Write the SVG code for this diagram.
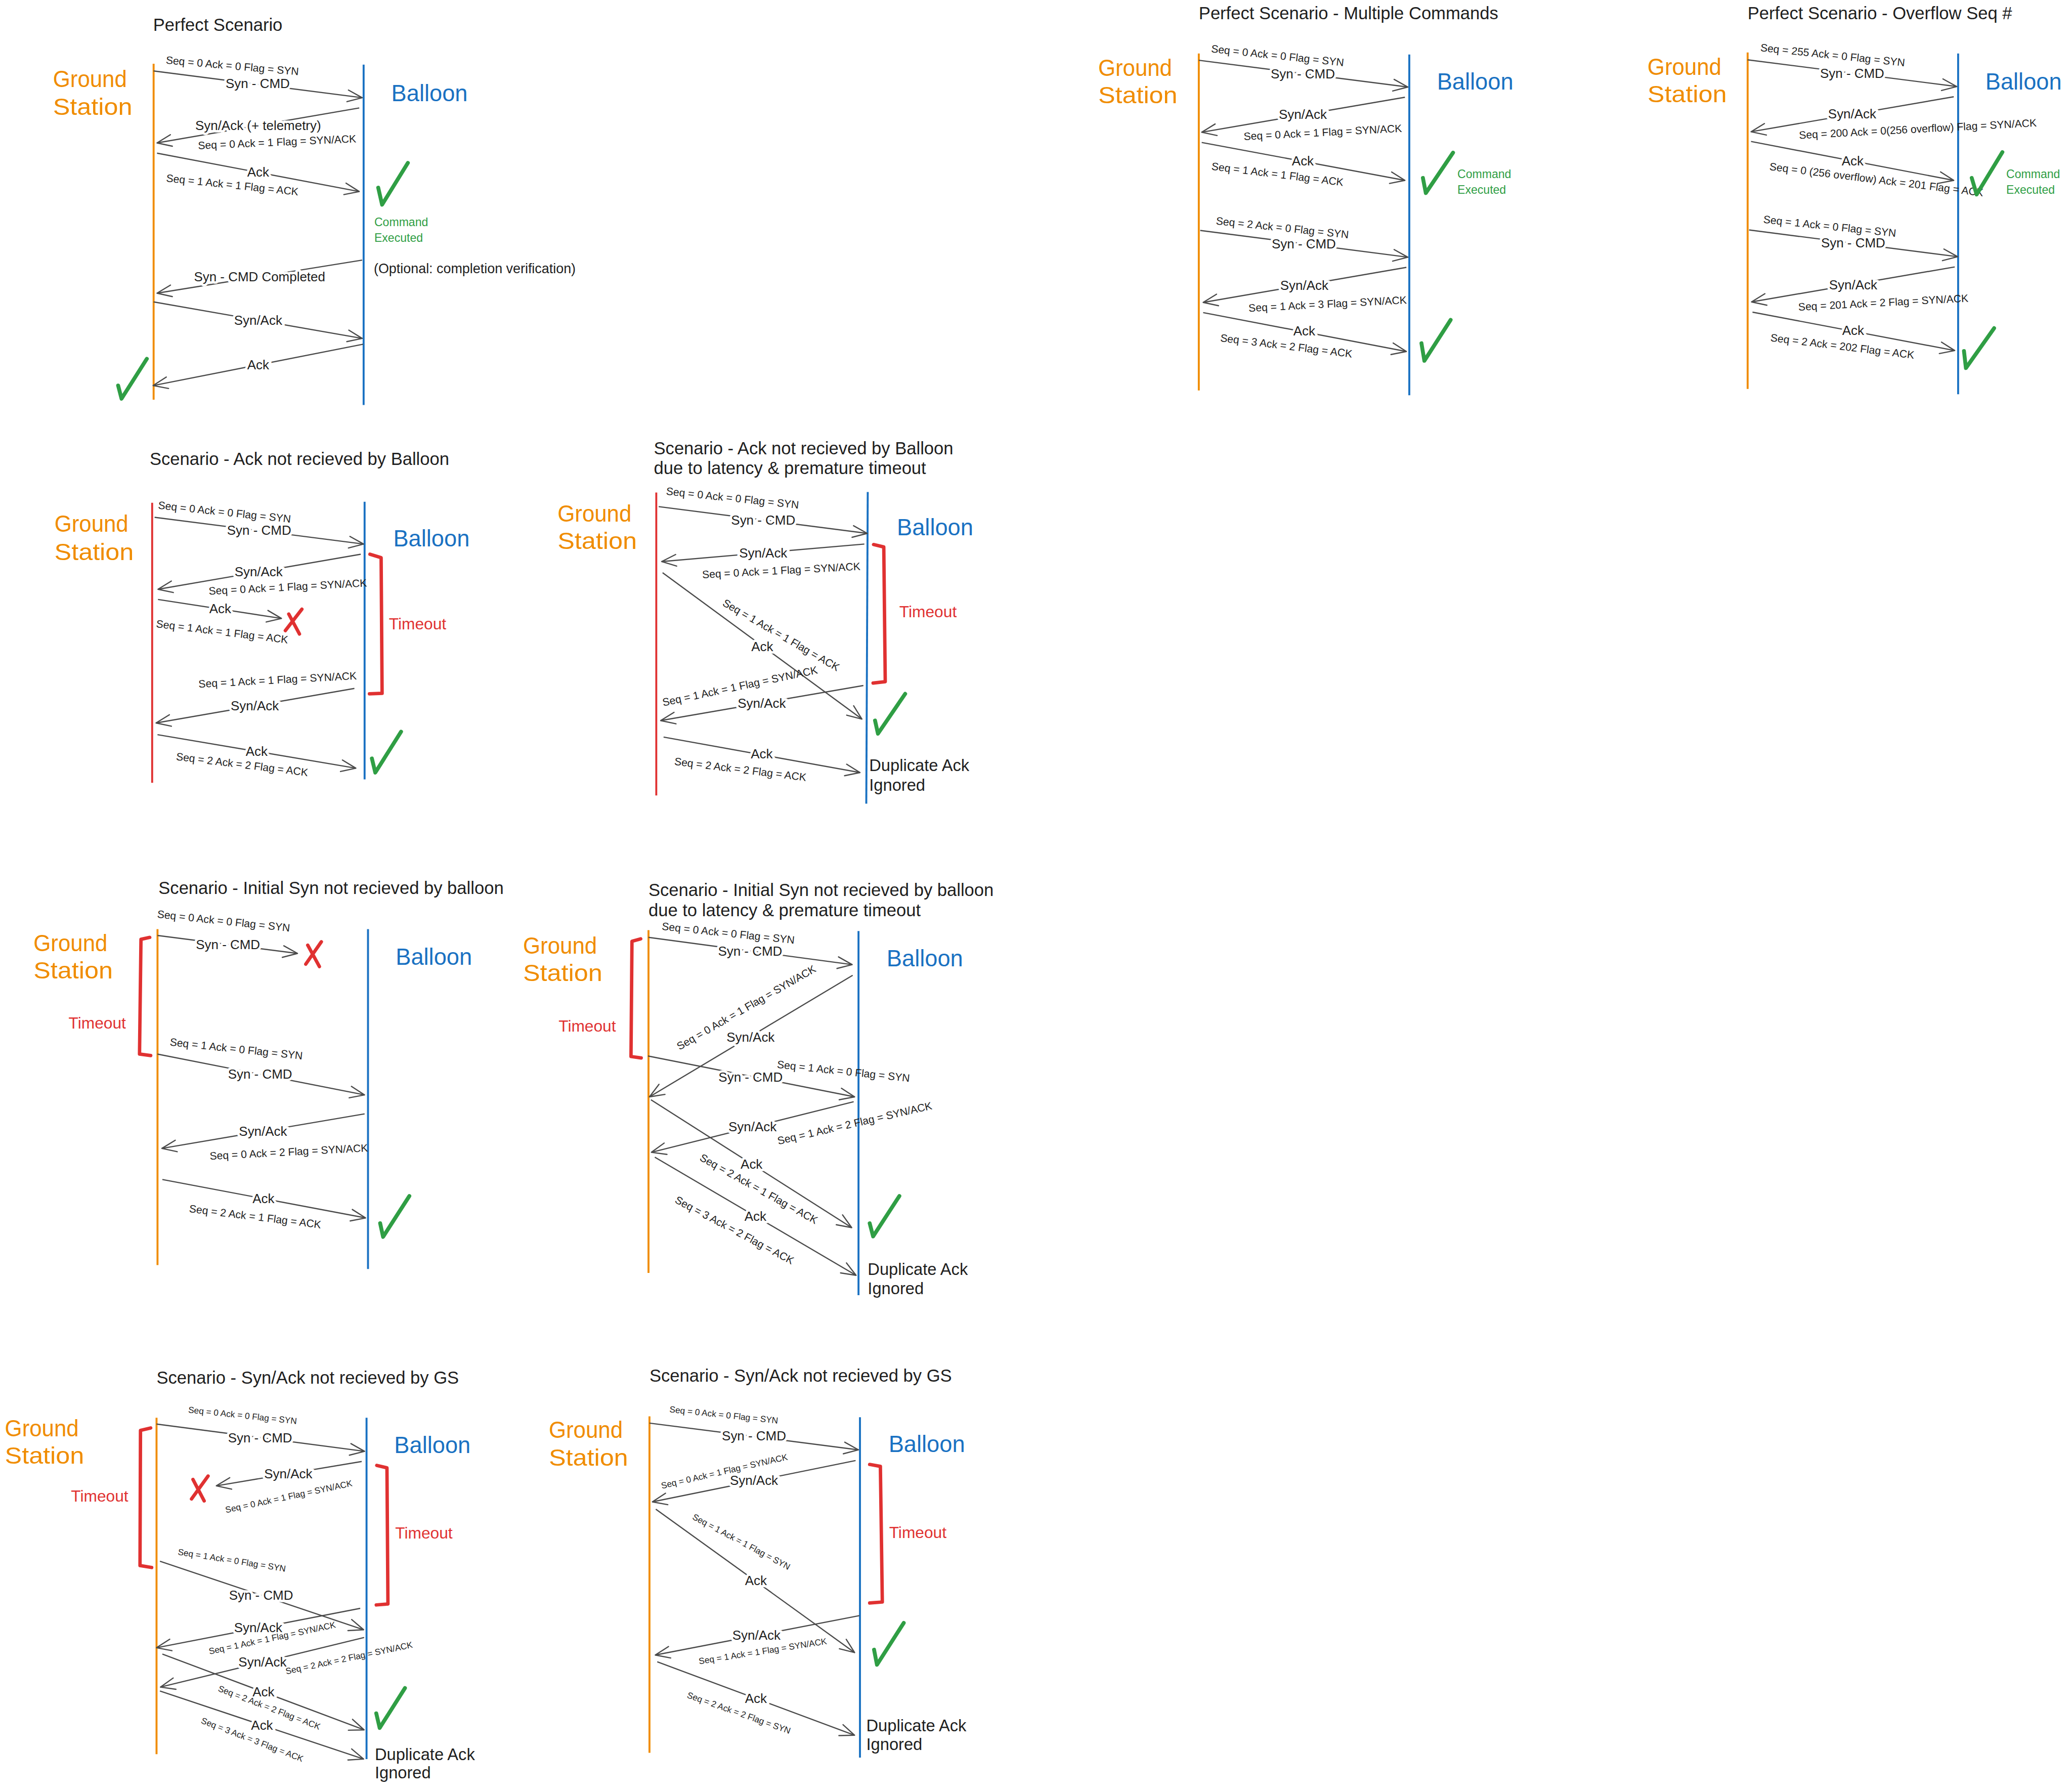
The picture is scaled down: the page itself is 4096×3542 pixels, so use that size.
<svg xmlns="http://www.w3.org/2000/svg" width="4096" height="3542" viewBox="0 0 4096 3542">
<style>
.t{font-family:"Liberation Sans",Arial,sans-serif;fill:#1e1e1e}
.title{font-size:36px}
.gs{fill:#f08c00;font-size:48px}
.bl{fill:#1971c2;font-size:48px}
.lbl{font-size:27px;text-anchor:middle;dominant-baseline:central;paint-order:stroke;stroke:#fff;stroke-width:10px;stroke-linejoin:round}
.seq{font-size:22px;text-anchor:middle;dominant-baseline:central}
.sm{font-size:18px}
.grn{fill:#2f9e44;font-size:24px}
.red{fill:#e03131;font-size:33px}
.dup{font-size:34px}
.opt{font-size:28px}
.lo{stroke:#f08c00;stroke-width:4}
.lb{stroke:#1971c2;stroke-width:4}
.lr{stroke:#e03131;stroke-width:4}
.arr{stroke:#4a4a4a;stroke-width:2.5;fill:none;marker-end:url(#ah)}
.chk{stroke:#2f9e44;stroke-width:8;fill:none;stroke-linecap:round;stroke-linejoin:round}
.x{stroke:#e03131;stroke-width:7;stroke-linecap:round}
.br{stroke:#e03131;stroke-width:7;fill:none;stroke-linejoin:round;stroke-linecap:round}
</style>
<defs>
<marker id="ah" viewBox="-32 -15 36 30" refX="0" refY="0" markerWidth="36" markerHeight="30" markerUnits="userSpaceOnUse" orient="auto">
<path d="M-30,-12 L0,0 L-30,12" fill="none" stroke="#4a4a4a" stroke-width="2.5" stroke-linecap="round" stroke-linejoin="round"/>
</marker>
</defs>
<rect x="0" y="0" width="4096" height="3542" fill="#ffffff"/>
<g transform="scale(0.961)">

<!-- Scenario 1 -->
<g id="s1">
<text class="t title" x="315" y="63">Perfect Scenario</text>
<g id="s1-gs"><line class="lo" x1="316" y1="131" x2="316" y2="822"/><text class="t gs" x="109" y="179" textLength="152" lengthAdjust="spacingAndGlyphs">Ground</text><text class="t gs" x="109" y="236" textLength="163" lengthAdjust="spacingAndGlyphs">Station</text></g>
<g id="s1-bl"><line class="lb" x1="748" y1="133" x2="748" y2="833"/><text class="t bl" x="805" y="208" textLength="157" lengthAdjust="spacingAndGlyphs">Balloon</text></g>
<g id="s1-conn">
<line class="arr" x1="316" y1="146" x2="745" y2="201"/>
<line class="arr" x1="739" y1="222" x2="323" y2="294"/>
<line class="arr" x1="323" y1="315" x2="739" y2="394"/>
<line class="arr" x1="745" y1="535" x2="323" y2="603"/>
<line class="arr" x1="316" y1="621" x2="745" y2="696"/>
<line class="arr" x1="747" y1="708" x2="315" y2="793"/>
<text class="t lbl" x="530" y="172">Syn - CMD</text>
<text class="t lbl" x="531" y="258">Syn/Ack (+ telemetry)</text>
<text class="t lbl" x="531" y="354">Ack</text>
<text class="t lbl" x="534" y="569">Syn - CMD Completed</text>
<text class="t lbl" x="531" y="659">Syn/Ack</text>
<text class="t lbl" x="531" y="750">Ack</text>
<text class="t seq" x="478" y="135" transform="rotate(5 478 135)">Seq = 0 Ack = 0 Flag = SYN</text>
<text class="t seq" x="570" y="292" transform="rotate(-2.5 570 292)">Seq = 0 Ack = 1 Flag = SYN/ACK</text>
<text class="t seq" x="478" y="380" transform="rotate(6 478 380)">Seq = 1 Ack = 1 Flag = ACK</text>
</g>
<g id="s1-notes">
<path class="chk" d="M778,386 L786,421 L839,335"/>
<text class="t grn" x="770" y="465">Command</text><text class="t grn" x="770" y="497">Executed</text>
<text class="t opt" x="769" y="562">(Optional: completion verification)</text>
<path class="chk" d="M243,793 L250,820 L302,738"/>
</g>
</g>

<!-- Scenario 2 -->
<g id="s2">
<text class="t title" x="2466" y="40">Perfect Scenario - Multiple Commands</text>
<g id="s2-gs"><line class="lo" x1="2466" y1="110" x2="2466" y2="803"/><text class="t gs" x="2259" y="156" textLength="152" lengthAdjust="spacingAndGlyphs">Ground</text><text class="t gs" x="2259" y="212" textLength="163" lengthAdjust="spacingAndGlyphs">Station</text></g>
<g id="s2-bl"><line class="lb" x1="2899" y1="112" x2="2899" y2="813"/><text class="t bl" x="2956" y="184" textLength="157" lengthAdjust="spacingAndGlyphs">Balloon</text></g>
<g id="s2-conn">
<line class="arr" x1="2466" y1="124" x2="2896" y2="179"/>
<line class="arr" x1="2890" y1="200" x2="2472" y2="272"/>
<line class="arr" x1="2472" y1="293" x2="2890" y2="371"/>
<line class="arr" x1="2469" y1="474" x2="2896" y2="529"/>
<line class="arr" x1="2893" y1="550" x2="2475" y2="622"/>
<line class="arr" x1="2475" y1="643" x2="2893" y2="723"/>
<text class="t lbl" x="2680" y="152">Syn - CMD</text>
<text class="t lbl" x="2680" y="235">Syn/Ack</text>
<text class="t lbl" x="2680" y="331">Ack</text>
<text class="t lbl" x="2682" y="502">Syn - CMD</text>
<text class="t lbl" x="2683" y="587">Syn/Ack</text>
<text class="t lbl" x="2683" y="681">Ack</text>
<text class="t seq" x="2628" y="114" transform="rotate(6 2628 114)">Seq = 0 Ack = 0 Flag = SYN</text>
<text class="t seq" x="2721" y="272" transform="rotate(-3 2721 272)">Seq = 0 Ack = 1 Flag = SYN/ACK</text>
<text class="t seq" x="2628" y="358" transform="rotate(7 2628 358)">Seq = 1 Ack = 1 Flag = ACK</text>
<text class="t seq" x="2638" y="468" transform="rotate(6 2638 468)">Seq = 2 Ack = 0 Flag = SYN</text>
<text class="t seq" x="2731" y="625" transform="rotate(-3 2731 625)">Seq = 1 Ack = 3 Flag = SYN/ACK</text>
<text class="t seq" x="2646" y="711" transform="rotate(7 2646 711)">Seq = 3 Ack = 2 Flag = ACK</text>
</g>
<g id="s2-notes">
<path class="chk" d="M2927,366 L2933,397 L2989,314"/>
<text class="t grn" x="2998" y="366">Command</text><text class="t grn" x="2998" y="399">Executed</text>
<path class="chk" d="M2924,706 L2930,742 L2984,658"/>
</g>
</g>

<!-- Scenario 3 -->
<g id="s3">
<text class="t title" x="3595" y="40">Perfect Scenario - Overflow Seq #</text>
<g id="s3-gs"><line class="lo" x1="3595" y1="108" x2="3595" y2="800"/><text class="t gs" x="3389" y="154" textLength="152" lengthAdjust="spacingAndGlyphs">Ground</text><text class="t gs" x="3389" y="210" textLength="163" lengthAdjust="spacingAndGlyphs">Station</text></g>
<g id="s3-bl"><line class="lb" x1="4028" y1="110" x2="4028" y2="811"/><text class="t bl" x="4084" y="184" textLength="157" lengthAdjust="spacingAndGlyphs">Balloon</text></g>
<g id="s3-conn">
<line class="arr" x1="3595" y1="123" x2="4025" y2="178"/>
<line class="arr" x1="4019" y1="199" x2="3602" y2="271"/>
<line class="arr" x1="3602" y1="291" x2="4019" y2="371"/>
<line class="arr" x1="3598" y1="473" x2="4027" y2="528"/>
<line class="arr" x1="4021" y1="549" x2="3603" y2="621"/>
<line class="arr" x1="3605" y1="642" x2="4021" y2="721"/>
<text class="t lbl" x="3810" y="151">Syn - CMD</text>
<text class="t lbl" x="3810" y="234">Syn/Ack</text>
<text class="t lbl" x="3811" y="331">Ack</text>
<text class="t lbl" x="3812" y="500">Syn - CMD</text>
<text class="t lbl" x="3812" y="586">Syn/Ack</text>
<text class="t lbl" x="3812" y="680">Ack</text>
<text class="t seq" x="3770" y="113" transform="rotate(6 3770 113)">Seq = 255 Ack = 0 Flag = SYN</text>
<text class="t seq" x="3945" y="265" transform="rotate(-3 3945 265)">Seq = 200 Ack = 0(256 overflow) Flag = SYN/ACK</text>
<text class="t seq" x="3860" y="369" transform="rotate(7 3860 369)">Seq = 0  (256 overflow) Ack = 201 Flag = ACK</text>
<text class="t seq" x="3764" y="465" transform="rotate(6 3764 465)">Seq = 1 Ack = 0 Flag = SYN</text>
<text class="t seq" x="3874" y="622" transform="rotate(-3 3874 622)">Seq = 201 Ack = 2 Flag = SYN/ACK</text>
<text class="t seq" x="3790" y="712" transform="rotate(7 3790 712)">Seq = 2 Ack = 202 Flag = ACK</text>
</g>
<g id="s3-notes">
<path class="chk" d="M4056,366 L4066,400 L4119,313"/>
<text class="t grn" x="4127" y="366">Command</text><text class="t grn" x="4127" y="399">Executed</text>
<path class="chk" d="M4040,722 L4044,757 L4102,675"/>
</g>
</g>

<!-- Scenario 4 -->
<g id="s4">
<text class="t title" x="308" y="956">Scenario - Ack not recieved by Balloon</text>
<g id="s4-gs"><line class="lr" x1="313" y1="1034" x2="313" y2="1610"/><text class="t gs" x="112" y="1094" textLength="152" lengthAdjust="spacingAndGlyphs">Ground</text><text class="t gs" x="112" y="1152" textLength="163" lengthAdjust="spacingAndGlyphs">Station</text></g>
<g id="s4-bl"><line class="lb" x1="750" y1="1032" x2="750" y2="1603"/><text class="t bl" x="809" y="1124" textLength="157" lengthAdjust="spacingAndGlyphs">Balloon</text></g>
<g id="s4-conn">
<line class="arr" x1="318" y1="1064" x2="748" y2="1119"/>
<line class="arr" x1="742" y1="1140" x2="325" y2="1212"/>
<line class="arr" x1="325" y1="1233" x2="579" y2="1272"/>
<line class="arr" x1="729" y1="1416" x2="321" y2="1487"/>
<line class="arr" x1="324" y1="1511" x2="732" y2="1580"/>
<text class="t lbl" x="533" y="1091">Syn - CMD</text>
<text class="t lbl" x="532" y="1176">Syn/Ack</text>
<text class="t lbl" x="453" y="1252">Ack</text>
<text class="t lbl" x="524" y="1452">Syn/Ack</text>
<text class="t lbl" x="528" y="1545">Ack</text>
<text class="t seq" x="462" y="1053" transform="rotate(6 462 1053)">Seq = 0 Ack = 0 Flag = SYN</text>
<text class="t seq" x="592" y="1207" transform="rotate(-3 592 1207)">Seq = 0 Ack = 1 Flag = SYN/ACK</text>
<text class="t seq" x="457" y="1299" transform="rotate(7 457 1299)">Seq = 1 Ack = 1 Flag = ACK</text>
<text class="t seq" x="571" y="1398" transform="rotate(-3 571 1398)">Seq = 1 Ack = 1 Flag = SYN/ACK</text>
<text class="t seq" x="498" y="1572" transform="rotate(7 498 1572)">Seq = 2 Ack = 2 Flag = ACK</text>
</g>
<g id="s4-notes">
<path class="x" d="M621,1253 L587,1297 M594,1263 L616,1304"/>
<path class="br" d="M761,1140 L784,1147 L786,1426 L760,1427"/>
<text class="t red" x="800" y="1294">Timeout</text>
<path class="chk" d="M765,1560 L772,1589 L825,1505"/>
</g>
</g>

<!-- Scenario 5 -->
<g id="s5">
<text class="t title" x="1345" y="934">Scenario - Ack not recieved by Balloon</text>
<text class="t title" x="1345" y="975">due to latency &amp; premature timeout</text>
<g id="s5-gs"><line class="lr" x1="1350" y1="1013" x2="1350" y2="1636"/><text class="t gs" x="1147" y="1073" textLength="152" lengthAdjust="spacingAndGlyphs">Ground</text><text class="t gs" x="1147" y="1129" textLength="163" lengthAdjust="spacingAndGlyphs">Station</text></g>
<g id="s5-bl"><line class="lb" x1="1785" y1="1012" x2="1782" y2="1653"/><text class="t bl" x="1845" y="1101" textLength="157" lengthAdjust="spacingAndGlyphs">Balloon</text></g>
<g id="s5-conn">
<line class="arr" x1="1355" y1="1042" x2="1784" y2="1097"/>
<line class="arr" x1="1778" y1="1119" x2="1361" y2="1155"/>
<line class="arr" x1="1363" y1="1178" x2="1773" y2="1479"/>
<line class="arr" x1="1776" y1="1410" x2="1359" y2="1482"/>
<line class="arr" x1="1365" y1="1516" x2="1769" y2="1589"/>
<text class="t lbl" x="1570" y="1070">Syn - CMD</text>
<text class="t lbl" x="1570" y="1137">Syn/Ack</text>
<text class="t lbl" x="1568" y="1330">Ack</text>
<text class="t lbl" x="1567" y="1446">Syn/Ack</text>
<text class="t lbl" x="1567" y="1551">Ack</text>
<text class="t seq" x="1507" y="1024" transform="rotate(6 1507 1024)">Seq = 0 Ack = 0 Flag = SYN</text>
<text class="t seq" x="1607" y="1173" transform="rotate(-3 1607 1173)">Seq = 0 Ack = 1 Flag = SYN/ACK</text>
<text class="t seq" x="1607" y="1306" transform="rotate(30 1607 1306)">Seq = 1 Ack = 1 Flag = ACK</text>
<text class="t seq" x="1522" y="1411" transform="rotate(-12 1522 1411)">Seq = 1 Ack = 1 Flag = SYN/ACK</text>
<text class="t seq" x="1523" y="1582" transform="rotate(7 1523 1582)">Seq = 2 Ack = 2 Flag = ACK</text>
</g>
<g id="s5-notes">
<path class="br" d="M1797,1120 L1818,1125 L1821,1402 L1796,1405"/>
<text class="t red" x="1850" y="1270">Timeout</text>
<path class="chk" d="M1800,1482 L1806,1509 L1862,1427"/>
<text class="t dup" x="1788" y="1586">Duplicate Ack</text>
<text class="t dup" x="1788" y="1626">Ignored</text>
</g>
</g>

<!-- Scenario 6 -->
<g id="s6">
<text class="t title" x="326" y="1839">Scenario - Initial Syn not recieved by balloon</text>
<g id="s6-gs"><line class="lo" x1="324" y1="1911" x2="324" y2="2602"/><text class="t gs" x="69" y="1956" textLength="152" lengthAdjust="spacingAndGlyphs">Ground</text><text class="t gs" x="69" y="2012" textLength="163" lengthAdjust="spacingAndGlyphs">Station</text></g>
<g id="s6-bl"><line class="lb" x1="757" y1="1911" x2="757" y2="2610"/><text class="t bl" x="814" y="1984" textLength="157" lengthAdjust="spacingAndGlyphs">Balloon</text></g>
<g id="s6-conn">
<line class="arr" x1="324" y1="1924" x2="612" y2="1961"/>
<line class="arr" x1="324" y1="2168" x2="750" y2="2252"/>
<line class="arr" x1="750" y1="2291" x2="333" y2="2362"/>
<line class="arr" x1="334" y1="2426" x2="752" y2="2505"/>
<text class="t lbl" x="469" y="1943">Syn - CMD</text>
<text class="t lbl" x="535" y="2209">Syn - CMD</text>
<text class="t lbl" x="541" y="2327">Syn/Ack</text>
<text class="t lbl" x="542" y="2465">Ack</text>
<text class="t seq" x="460" y="1894" transform="rotate(6 460 1894)">Seq = 0 Ack = 0 Flag = SYN</text>
<text class="t seq" x="486" y="2157" transform="rotate(6 486 2157)">Seq = 1 Ack = 0 Flag = SYN</text>
<text class="t seq" x="594" y="2369" transform="rotate(-3 594 2369)">Seq = 0 Ack = 2 Flag = SYN/ACK</text>
<text class="t seq" x="525" y="2502" transform="rotate(7 525 2502)">Seq = 2 Ack = 1 Flag = ACK</text>
</g>
<g id="s6-notes">
<path class="br" d="M308,1928 L290,1932 L287,2168 L310,2171"/>
<text class="t red" x="141" y="2116">Timeout</text>
<path class="x" d="M661,1937 L629,1983 M633,1944 L657,1988"/>
<path class="chk" d="M782,2516 L788,2544 L842,2460"/>
</g>
</g>

<!-- Scenario 7 -->
<g id="s7">
<text class="t title" x="1334" y="1843">Scenario - Initial Syn not recieved by balloon</text>
<text class="t title" x="1334" y="1885">due to latency &amp; premature timeout</text>
<g id="s7-gs"><line class="lo" x1="1334" y1="1913" x2="1334" y2="2618"/><text class="t gs" x="1076" y="1961" textLength="152" lengthAdjust="spacingAndGlyphs">Ground</text><text class="t gs" x="1076" y="2018" textLength="163" lengthAdjust="spacingAndGlyphs">Station</text></g>
<g id="s7-bl"><line class="lb" x1="1766" y1="1915" x2="1766" y2="2664"/><text class="t bl" x="1824" y="1988" textLength="157" lengthAdjust="spacingAndGlyphs">Balloon</text></g>
<g id="s7-conn">
<line class="arr" x1="1334" y1="1928" x2="1753" y2="1984"/>
<line class="arr" x1="1754" y1="2006" x2="1336" y2="2256"/>
<line class="arr" x1="1333" y1="2172" x2="1758" y2="2256"/>
<line class="arr" x1="1756" y1="2266" x2="1340" y2="2370"/>
<line class="arr" x1="1339" y1="2262" x2="1752" y2="2525"/>
<line class="arr" x1="1347" y1="2380" x2="1761" y2="2623"/>
<text class="t lbl" x="1543" y="1956">Syn - CMD</text>
<text class="t lbl" x="1544" y="2133">Syn/Ack</text>
<text class="t lbl" x="1544" y="2215">Syn - CMD</text>
<text class="t lbl" x="1548" y="2317">Syn/Ack</text>
<text class="t lbl" x="1546" y="2394">Ack</text>
<text class="t lbl" x="1554" y="2502">Ack</text>
<text class="t seq" x="1498" y="1919" transform="rotate(6 1498 1919)">Seq = 0 Ack = 0 Flag = SYN</text>
<text class="t seq" x="1535" y="2072" transform="rotate(-30 1535 2072)">Seq = 0 Ack = 1 Flag = SYN/ACK</text>
<text class="t seq" x="1735" y="2203" transform="rotate(6 1735 2203)">Seq = 1 Ack = 0 Flag = SYN</text>
<text class="t seq" x="1758" y="2310" transform="rotate(-13 1758 2310)">Seq = 1 Ack = 2 Flag = SYN/ACK</text>
<text class="t seq" x="1561" y="2445" transform="rotate(29 1561 2445)">Seq = 2 Ack = 1 Flag = ACK</text>
<text class="t seq" x="1511" y="2530" transform="rotate(28 1511 2530)">Seq = 3 Ack = 2 Flag = ACK</text>
</g>
<g id="s7-notes">
<path class="br" d="M1318,1931 L1300,1936 L1298,2173 L1319,2176"/>
<text class="t red" x="1149" y="2122">Timeout</text>
<path class="chk" d="M1789,2516 L1796,2543 L1850,2460"/>
<text class="t dup" x="1785" y="2622">Duplicate Ack</text>
<text class="t dup" x="1785" y="2662">Ignored</text>
</g>
</g>

<!-- Scenario 8 -->
<g id="s8">
<text class="t title" x="322" y="2846">Scenario - Syn/Ack not recieved by GS</text>
<g id="s8-gs"><line class="lo" x1="322" y1="2916" x2="322" y2="3608"/><text class="t gs" x="10" y="2954" textLength="152" lengthAdjust="spacingAndGlyphs">Ground</text><text class="t gs" x="10" y="3010" textLength="163" lengthAdjust="spacingAndGlyphs">Station</text></g>
<g id="s8-bl"><line class="lb" x1="754" y1="2916" x2="754" y2="3618"/><text class="t bl" x="811" y="2989" textLength="157" lengthAdjust="spacingAndGlyphs">Balloon</text></g>
<g id="s8-conn">
<line class="arr" x1="322" y1="2929" x2="750" y2="2985"/>
<line class="arr" x1="744" y1="3006" x2="445" y2="3056"/>
<line class="arr" x1="329" y1="3211" x2="748" y2="3352"/>
<line class="arr" x1="741" y1="3308" x2="322" y2="3389"/>
<line class="arr" x1="749" y1="3368" x2="330" y2="3470"/>
<line class="arr" x1="334" y1="3402" x2="749" y2="3558"/>
<line class="arr" x1="329" y1="3478" x2="748" y2="3618"/>
<text class="t lbl" x="535" y="2957">Syn - CMD</text>
<text class="t lbl" x="593" y="3031">Syn/Ack</text>
<text class="t lbl" x="537" y="3281">Syn - CMD</text>
<text class="t lbl" x="531" y="3348">Syn/Ack</text>
<text class="t lbl" x="540" y="3418">Syn/Ack</text>
<text class="t lbl" x="542" y="3480">Ack</text>
<text class="t lbl" x="539" y="3548">Ack</text>
<text class="t seq sm" x="499" y="2911" transform="rotate(6 499 2911)">Seq = 0 Ack = 0 Flag = SYN</text>
<text class="t seq sm" x="594" y="3078" transform="rotate(-12 594 3078)">Seq = 0 Ack = 1 Flag = SYN/ACK</text>
<text class="t seq sm" x="477" y="3209" transform="rotate(9 477 3209)">Seq = 1 Ack = 0 Flag = SYN</text>
<text class="t seq sm" x="560" y="3369" transform="rotate(-12 560 3369)">Seq = 1 Ack = 1 Flag = SYN/ACK</text>
<text class="t seq sm" x="718" y="3410" transform="rotate(-12 718 3410)">Seq = 2 Ack = 2 Flag = SYN/ACK</text>
<text class="t seq sm" x="554" y="3512" transform="rotate(21 554 3512)">Seq = 2 Ack = 2 Flag = ACK</text>
<text class="t seq sm" x="519" y="3578" transform="rotate(21 519 3578)">Seq = 3 Ack = 3 Flag = ACK</text>
</g>
<g id="s8-notes">
<path class="br" d="M310,2937 L289,2942 L288,3220 L312,3224"/>
<text class="t red" x="146" y="3088">Timeout</text>
<path class="x" d="M428,3036 L394,3083 M397,3043 L420,3087"/>
<path class="br" d="M775,3014 L796,3019 L798,3299 L774,3301"/>
<text class="t red" x="813" y="3164">Timeout</text>
<path class="chk" d="M774,3524 L781,3554 L833,3472"/>
<text class="t dup" x="771" y="3620">Duplicate Ack</text>
<text class="t dup" x="771" y="3658">Ignored</text>
</g>
</g>

<!-- Scenario 9 -->
<g id="s9">
<text class="t title" x="1336" y="2842">Scenario - Syn/Ack not recieved by GS</text>
<g id="s9-gs"><line class="lo" x1="1336" y1="2913" x2="1336" y2="3605"/><text class="t gs" x="1129" y="2957" textLength="152" lengthAdjust="spacingAndGlyphs">Ground</text><text class="t gs" x="1129" y="3015" textLength="163" lengthAdjust="spacingAndGlyphs">Station</text></g>
<g id="s9-bl"><line class="lb" x1="1769" y1="2915" x2="1769" y2="3615"/><text class="t bl" x="1828" y="2986" textLength="157" lengthAdjust="spacingAndGlyphs">Balloon</text></g>
<g id="s9-conn">
<line class="arr" x1="1336" y1="2927" x2="1766" y2="2982"/>
<line class="arr" x1="1760" y1="3004" x2="1342" y2="3089"/>
<line class="arr" x1="1349" y1="3104" x2="1758" y2="3399"/>
<line class="arr" x1="1768" y1="3323" x2="1348" y2="3404"/>
<line class="arr" x1="1352" y1="3418" x2="1758" y2="3569"/>
<text class="t lbl" x="1551" y="2953">Syn - CMD</text>
<text class="t lbl" x="1551" y="3045">Syn/Ack</text>
<text class="t lbl" x="1555" y="3251">Ack</text>
<text class="t lbl" x="1556" y="3363">Syn/Ack</text>
<text class="t lbl" x="1555" y="3493">Ack</text>
<text class="t seq sm" x="1489" y="2910" transform="rotate(6 1489 2910)">Seq = 0 Ack = 0 Flag = SYN</text>
<text class="t seq sm" x="1490" y="3026" transform="rotate(-13 1490 3026)">Seq = 0 Ack = 1 Flag = SYN/ACK</text>
<text class="t seq sm" x="1525" y="3171" transform="rotate(28 1525 3171)">Seq = 1 Ack = 1 Flag = SYN</text>
<text class="t seq sm" x="1569" y="3396" transform="rotate(-9 1569 3396)">Seq = 1 Ack = 1 Flag = SYN/ACK</text>
<text class="t seq sm" x="1520" y="3523" transform="rotate(19.5 1520 3523)">Seq = 2 Ack = 2 Flag = SYN</text>
</g>
<g id="s9-notes">
<path class="br" d="M1789,3012 L1811,3016 L1815,3295 L1789,3297"/>
<text class="t red" x="1829" y="3163">Timeout</text>
<path class="chk" d="M1798,3393 L1804,3424 L1859,3338"/>
<text class="t dup" x="1782" y="3561">Duplicate Ack</text>
<text class="t dup" x="1782" y="3599">Ignored</text>
</g>
</g>

</g>
</svg>
